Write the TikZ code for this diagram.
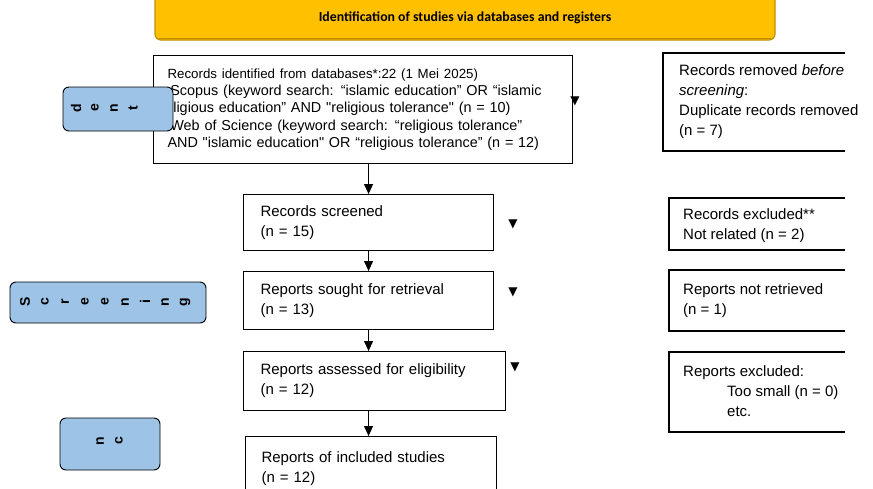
\documentclass[tikz,border=0pt]{standalone}
\usepackage{fontspec}
\setmainfont{Liberation Sans}[Ligatures=TeXOff]
\newfontfamily\carlitofont{Carlito}
\newfontfamily\dejavufont{DejaVu Sans}
\usetikzlibrary{arrows.meta}
\definecolor{bannerfill}{HTML}{FFC000}
\definecolor{bannerline}{HTML}{BF9000}
\definecolor{sideblue}{HTML}{9DC3E6}
\tikzset{
  boxline/.style={line width=1.1pt, draw=black},
  flowbox/.style={boxline, anchor=north west, align=left, inner ysep=0pt,
    font=\fontsize{15}{20}\selectfont},
  sidetext/.style={anchor=west, align=left, inner sep=0pt,
    font=\fontsize{15}{20}\selectfont},
  flowarrow/.style={line width=1pt, -{Triangle[width=9pt,length=10pt]}},
  tri/.style={inner sep=0pt, font=\dejavufont\fontsize{12}{12}\selectfont},
  sidebox/.style={draw=black, line width=0.9pt, fill=sideblue, rounded corners=6pt},
  sideletter/.style={rotate=90, inner sep=0pt, font=\bfseries\fontsize{14}{14}\selectfont},
}
\begin{document}
\begin{tikzpicture}[x=1pt,y=-1pt]
\useasboundingbox (0,0) rectangle (873,488);
\clip (0,0) rectangle (873,488);

% banner
\draw[fill=bannerfill, draw=bannerline, line width=1.2pt, rounded corners=6pt]
  (155,-20) rectangle (775,40);
\draw[bannerline, line width=1.6pt] (159,38.5) -- (771,38.5);
\node[font=\carlitofont\bfseries\fontsize{13.8}{16}\selectfont] (banner) at (465,18)
  {Identification of studies via databases and registers};

% identification box
\node[flowbox, inner xsep=14pt, text width=391pt, minimum height=108pt,
  font=\fontsize{14.4}{17.2}\selectfont] (ident) at (153,55)
  {{\fontsize{13.3}{17.2}\selectfont Records identified from databases*:22 (1 Mei 2025)}\\
   \hspace*{-7pt}• Scopus (keyword search: “islamic education” OR “islamic\\
   \hspace*{-7pt}religious education” AND "religious tolerance" (n = 10)\\
   \hspace*{-7pt}• Web of Science (keyword search: “religious tolerance”\\
   AND "islamic education" OR “religious tolerance” (n = 12)};

% removed box (right, open edge)
\node[sidetext] (removed) at (679,101.5)
  {Records removed \textit{before}\\\textit{screening}:\\Duplicate records removed\\(n = 7)};
\draw[boxline] (845,53) -| (663,151) -- (845,151);

% main column
\node[flowbox, inner xsep=17pt, text width=216pt, minimum height=56pt] (screened) at (243,194)
  {Records screened\\(n = 15)};
\node[flowbox, inner xsep=17pt, text width=216pt, minimum height=58pt] (sought) at (243,271)
  {Reports sought for retrieval\\(n = 13)};
\node[flowbox, inner xsep=17pt, text width=228pt, minimum height=59pt] (assessed) at (243,351)
  {Reports assessed for eligibility\\(n = 12)};
\node[flowbox, inner xsep=16pt, text width=219pt, minimum height=65pt] (included) at (245,436)
  {Reports of included studies\\(n = 12)};

% right column
\node[sidetext] (excluded) at (683,225.5) {Records excluded**\\Not related (n = 2)};
\draw[boxline] (845,198) -| (669,250) -- (845,250);
\node[sidetext] (notret) at (683,300.5) {Reports not retrieved\\(n = 1)};
\draw[boxline] (845,270) -| (669,331) -- (845,331);
\node[sidetext] (repexcl) at (683,391)
  {Reports excluded:\\\hspace*{44pt}Too small (n = 0)\\\hspace*{44pt}etc.};
\draw[boxline] (845,352) -| (669,432) -- (845,432);

% arrows
\draw[flowarrow] (screened.north |- ident.south) -- (screened.north);
\draw[flowarrow] (screened.south) -- (sought.north);
\draw[flowarrow] (sought.south) -- (sought.south |- assessed.north);
\draw[flowarrow] (sought.south |- assessed.south) -- (sought.south |- included.north);

% stray arrowheads
\node[tri] (h1) at (575,101) {▼};
\node[tri] (h2) at (513,224) {▼};
\node[tri] (h3) at (513,292) {▼};
\node[tri] (h4) at (515,367) {▼};

% side labels
\draw[sidebox] (63,87) rectangle (173,131);
\node[sideletter] (i1) at (76,108) {d};
\node[sideletter] (i2) at (95,108) {e};
\node[sideletter] (i3) at (114,108) {n};
\node[sideletter] (i4) at (133,108) {t};

\draw[sidebox] (10,282) rectangle (206,323);
\foreach \ch [count=\k] in {S,c,r,e,e,n,i,n,g}
  \node[sideletter] (s\k) at ({25+20*(\k-1)},302) {\ch};

\draw[sidebox] (60,418) rectangle (160,470);
\node[sideletter] (c1) at (100,441) {n};
\node[sideletter] (c2) at (119,441) {c};
\end{tikzpicture}
\end{document}
